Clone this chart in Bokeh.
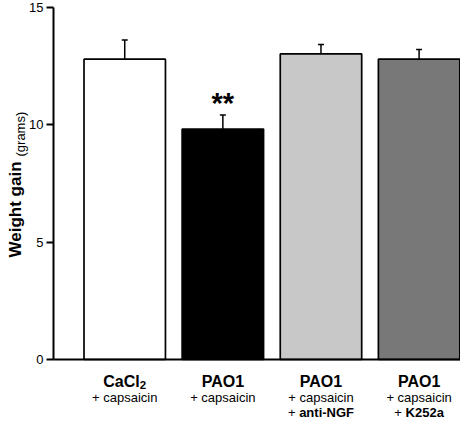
import math
from bokeh.plotting import figure
from bokeh.models import Range1d, FixedTicker, Label
from bokeh.core.properties import value
from bokeh.embed import file_html
from bokeh.resources import INLINE

# ---- data ----
groups = ["CaCl2 + capsaicin", "PAO1 + capsaicin",
          "PAO1 + capsaicin + anti-NGF", "PAO1 + capsaicin + K252a"]
means = [12.80, 9.82, 13.02, 12.80]
sems = [0.82, 0.60, 0.40, 0.41]
colors = ["#ffffff", "#000000", "#c8c8c8", "#787878"]
significance = ["", "**", "", ""]
name_main = ["CaCl", "PAO1", "PAO1", "PAO1"]
name_sub = ["2", "", "", ""]
line2 = ["+ capsaicin", "+ capsaicin", "+ capsaicin", "+ capsaicin"]
line3 = ["", "", "anti-NGF", "K252a"]
y_ticks = [0, 5, 10, 15]
y_min, y_max = 0, 15
y_label_bold = "Weight gain"
y_label_unit = "(grams)"

FONT = "Liberation Sans"
# Arial / Liberation Sans advance widths (em) used to center mixed-weight labels
BOLD_W = {"a": .556, "n": .611, "t": .333, "i": .278, "-": .333, "N": .722,
          "G": .778, "F": .611, "K": .722, "2": .556, "5": .556, "C": .722,
          "l": .278, "P": .667, "A": .722, "O": .778, "1": .556}
REG_W = {"+": .584, " ": .278}


def bold_width(s, size):
    return sum(BOLD_W.get(c, .6) for c in s) * size


x = list(range(len(groups)))
uppers = [m + e for m, e in zip(means, sems)]

# ---- layout: the frame covers the whole canvas; axes are pinned inside it ----
W, H = 460, 420
AX_LEFT_PX, AX_TOP_PX, AX_BOTTOM_PX = 53, 7, 61   # plot-area margins in pixels
X_LO, X_HI = -0.726, 3.422                        # category span of the plot area
px_x = (X_HI - X_LO) / (W - AX_LEFT_PX)
px_y = (y_max - y_min) / (H - AX_TOP_PX - AX_BOTTOM_PX)
x_range = Range1d(X_LO - AX_LEFT_PX * px_x, X_HI)
y_range = Range1d(y_min - AX_BOTTOM_PX * px_y, y_max + AX_TOP_PX * px_y)

p = figure(width=W, height=H, x_range=x_range, y_range=y_range,
           output_backend="svg", toolbar_location=None, min_border=0,
           min_border_left=0, min_border_right=0, min_border_top=0, min_border_bottom=0)
p.outline_line_color = None
p.grid.visible = False
p.background_fill_color = "white"
p.border_fill_color = "white"

# y axis pinned at the plot-area left edge
yax = p.yaxis[0]
yax.fixed_location = X_LO
yax.bounds = (y_min, y_max)
yax.ticker = FixedTicker(ticks=y_ticks)
yax.major_tick_out = 7
yax.major_tick_in = 0
yax.minor_tick_line_color = None
yax.axis_line_width = 2
yax.major_tick_line_width = 2
yax.major_label_text_font = FONT
yax.major_label_text_font_size = "13px"
yax.major_label_text_color = "black"
yax.major_label_standoff = 3
yax.axis_label = None

# x axis: baseline only, pinned at y = 0
xax = p.xaxis[0]
xax.fixed_location = y_min
xax.bounds = (X_LO, X_HI)
xax.ticker = FixedTicker(ticks=[])
xax.major_tick_line_color = None
xax.minor_tick_line_color = None
xax.major_label_text_font_size = "0px"
xax.axis_line_width = 2
xax.axis_label = None

# error bars (upper only)
p.segment(x0=x, y0=means, x1=x, y1=uppers, line_color="black", line_width=1.5)
p.dash(x=x, y=uppers, size=6, line_color="black", line_width=1.5)

# bars
p.vbar(x=x, top=means, bottom=0, width=0.83, fill_color=colors,
       line_color="black", line_width=1.7)

# significance marks
sig_x = [xi for xi, s in zip(x, significance) if s]
sig_y = [u for u, s in zip(uppers, significance) if s]
sig_t = [s for s in significance if s]
p.text(x=sig_x, y=sig_y, text=sig_t, text_font=value(FONT), text_font_style="bold",
       text_font_size="29px", text_align="center", text_baseline="middle",
       y_offset=-12, text_color="black")

# category labels below the axis (screen y measured from the bottom edge)
L1, L2, L3 = 39, 23.5, 8
S_MAIN, S_SUB, S_SMALL = 16, 11.5, 13
for xi, main, sub, l2, l3 in zip(x, name_main, name_sub, line2, line3):
    if sub:
        wm = bold_width(main, S_MAIN)
        ws = bold_width(sub, S_SUB)
        left = -(wm + ws) / 2
        p.add_layout(Label(x=xi, y=L1, x_units="data", y_units="screen", text=main,
                           x_offset=left, text_align="left", text_baseline="alphabetic",
                           text_font=FONT, text_font_style="bold",
                           text_font_size=f"{S_MAIN}px", text_color="black"))
        p.add_layout(Label(x=xi, y=L1 - 3.5, x_units="data", y_units="screen", text=sub,
                           x_offset=left + wm, text_align="left", text_baseline="alphabetic",
                           text_font=FONT, text_font_style="bold",
                           text_font_size=f"{S_SUB}px", text_color="black"))
    else:
        p.add_layout(Label(x=xi, y=L1, x_units="data", y_units="screen", text=main,
                           text_align="center", text_baseline="alphabetic",
                           text_font=FONT, text_font_style="bold",
                           text_font_size=f"{S_MAIN}px", text_color="black"))
    p.add_layout(Label(x=xi, y=L2, x_units="data", y_units="screen", text=l2,
                       text_align="center", text_baseline="alphabetic",
                       text_font=FONT, text_font_size=f"{S_SMALL}px", text_color="black"))
    if l3:
        wp = (REG_W["+"] + REG_W[" "]) * S_SMALL
        wb = bold_width(l3, S_SMALL)
        left = -(wp + wb) / 2
        p.add_layout(Label(x=xi, y=L3, x_units="data", y_units="screen", text="+",
                           x_offset=left, text_align="left", text_baseline="alphabetic",
                           text_font=FONT, text_font_size=f"{S_SMALL}px", text_color="black"))
        p.add_layout(Label(x=xi, y=L3, x_units="data", y_units="screen", text=l3,
                           x_offset=left + wp, text_align="left", text_baseline="alphabetic",
                           text_font=FONT, text_font_style="bold",
                           text_font_size=f"{S_SMALL}px", text_color="black"))

# rotated y-axis label (bold + regular parts), screen units from bottom-left
p.add_layout(Label(x=14.5, y=163, x_units="screen", y_units="screen", text=y_label_bold,
                   angle=math.pi / 2, text_align="left", text_baseline="alphabetic",
                   text_font=FONT, text_font_style="bold", text_font_size="17px",
                   text_color="black"))
p.add_layout(Label(x=19.5, y=264, x_units="screen", y_units="screen", text=y_label_unit,
                   angle=math.pi / 2, text_align="left", text_baseline="alphabetic",
                   text_font=FONT, text_font_size="13px", text_color="black"))

open("out.html", "w").write(file_html(p, INLINE))
